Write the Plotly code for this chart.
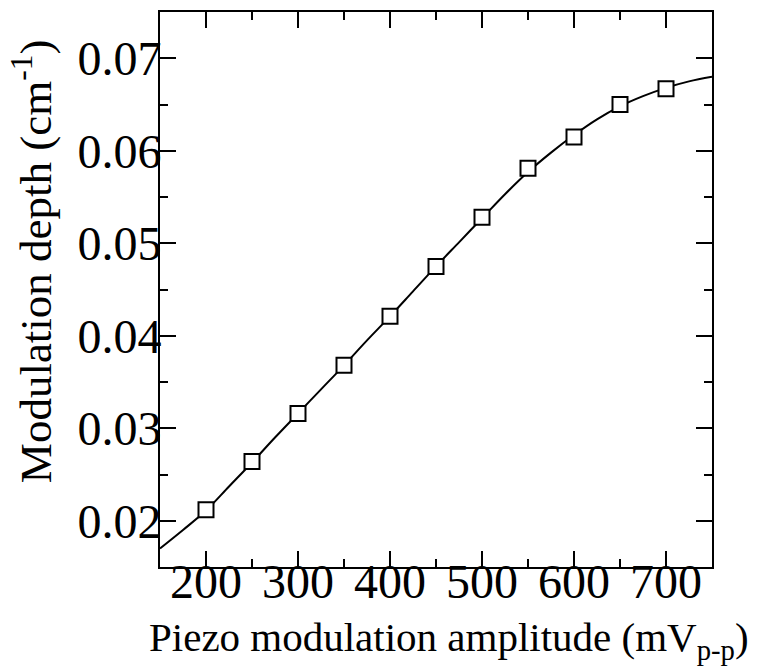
import plotly.graph_objects as go

# measured points
amp_mv = [200, 250, 300, 350, 400, 450, 500, 550, 600, 650, 700]
depth = [0.0212, 0.0264, 0.0316, 0.0368, 0.0421, 0.0475, 0.0528, 0.0581, 0.0615, 0.0650, 0.0667]

# fitted curve
fit_x = [150, 175, 200, 225, 250, 275, 300, 325, 350, 375, 400, 425, 450, 475,
         500, 525, 550, 575, 600, 625, 650, 675, 700, 725, 750]
fit_y = [0.0170, 0.0190, 0.0211, 0.0237, 0.0263, 0.0290, 0.0316, 0.0342, 0.0368,
         0.0395, 0.0421, 0.0448, 0.0475, 0.0501, 0.0527, 0.0553, 0.0577, 0.0598,
         0.0617, 0.0634, 0.0648, 0.0659, 0.0668, 0.0675, 0.0680]

x_ticks = [200, 300, 400, 500, 600, 700]
y_ticks = [0.02, 0.03, 0.04, 0.05, 0.06, 0.07]

x_title = "Piezo modulation amplitude (mV<sub>p-p</sub>)"
y_title = "Modulation depth (cm<sup>-1</sup>)"

FONT = "Liberation Serif"

fig = go.Figure()
fig.add_trace(go.Scatter(x=fit_x, y=fit_y, mode="lines",
                         line=dict(color="black", width=2, shape="spline"),
                         hoverinfo="skip", showlegend=False))
fig.add_trace(go.Scatter(x=amp_mv, y=depth, mode="markers",
                         marker=dict(symbol="square", size=15, color="white",
                                     line=dict(color="black", width=2)),
                         showlegend=False))

axis_common = dict(showline=True, linecolor="black", linewidth=2, mirror="ticks",
                   ticks="inside", tickcolor="black", tickwidth=2, ticklen=16,
                   showgrid=False, zeroline=False, automargin=False,
                   tickfont=dict(family=FONT, size=48, color="black"))

fig.update_xaxes(range=[150, 750], tickvals=x_ticks, ticktext=[str(v) for v in x_ticks],
                 minor=dict(ticks="inside", dtick=50, tick0=150, ticklen=8, tickwidth=2,
                            tickcolor="black"),
                 ticklabelstandoff=-29,
                 **axis_common)
fig.update_yaxes(range=[0.015, 0.075], tickvals=y_ticks, ticktext=[f"{v:.2f}" for v in y_ticks],
                 minor=dict(ticks="inside", dtick=0.005, tick0=0.015, ticklen=8, tickwidth=2,
                            tickcolor="black"),
                 ticklabelstandoff=-13,
                 **axis_common)

fig.add_annotation(text=x_title, xref="paper", yref="paper", x=0.5236, y=-0.131,
                   xanchor="center", yanchor="middle", showarrow=False,
                   font=dict(family=FONT, size=41, color="black"))
fig.add_annotation(text=y_title, xref="paper", yref="paper", x=-0.232, y=0.551,
                   xanchor="center", yanchor="middle", showarrow=False, textangle=-90,
                   font=dict(family=FONT, size=45, color="black"))

fig.update_layout(width=760, height=667, margin=dict(l=160, r=48, t=12, b=100),
                  paper_bgcolor="white", plot_bgcolor="white",
                  font=dict(family=FONT, color="black"))

fig.write_html("out.html", config={"displayModeBar": False},
               post_script="document.body.style.margin='0';")
